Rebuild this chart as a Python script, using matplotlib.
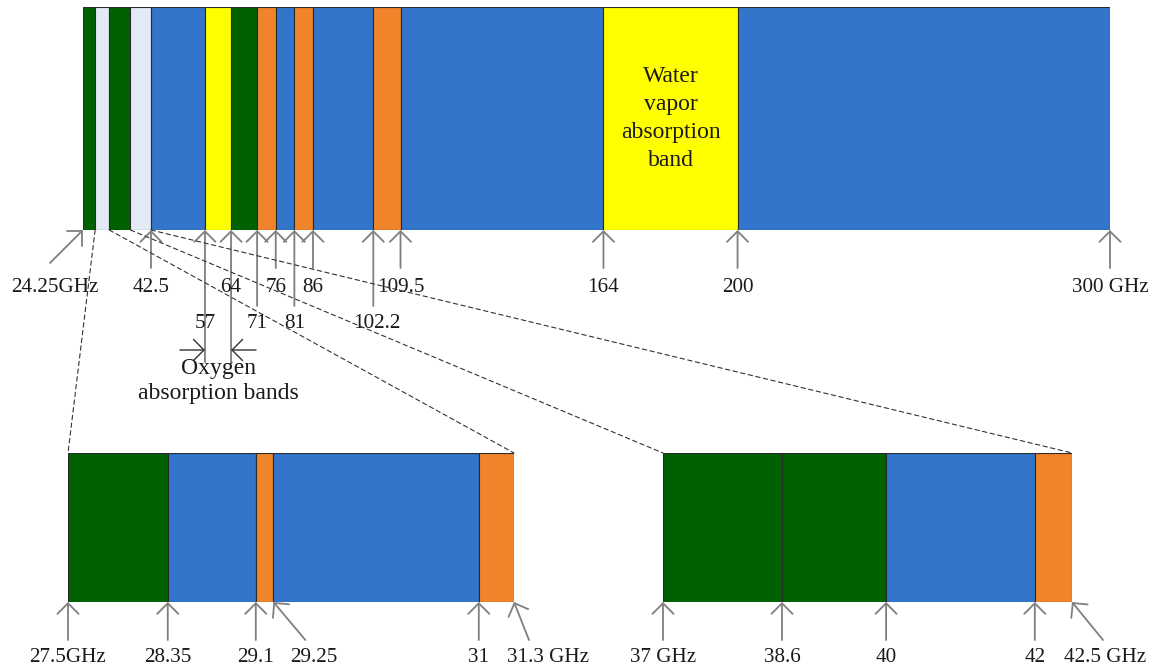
import matplotlib.pyplot as plt
from matplotlib.patches import ConnectionPatch

# --- données : bandes de fréquence (GHz) ---
top_starts = [24.25, 27.5, 31.3, 37, 42.5, 57, 64, 71, 76, 81, 86, 102.2, 109.5, 164, 200]
top_ends = [27.5, 31.3, 37, 42.5, 57, 64, 71, 76, 81, 86, 102.2, 109.5, 164, 200, 300]
top_kinds = ['green', 'light', 'green', 'light', 'blue', 'yellow', 'green', 'orange',
             'blue', 'orange', 'blue', 'orange', 'blue', 'yellow', 'blue']

top_ticks = [24.25, 42.5, 57, 64, 71, 76, 81, 86, 102.2, 109.5, 164, 200, 300]
top_tick_labels = ['24.25GHz', '42.5', '57', '64', '71', '76', '81', '86',
                   '102.2', '109.5', '164', '200', '300 GHz']

left_starts = [27.5, 28.35, 29.1, 29.25, 31]
left_ends = [28.35, 29.1, 29.25, 31, 31.3]
left_kinds = ['green', 'blue', 'orange', 'blue', 'orange']
left_ticks = [27.5, 28.35, 29.1, 29.25, 31, 31.3]
left_tick_labels = ['27.5GHz', '28.35', '29.1', '29.25', '31', '31.3 GHz']

right_starts = [37, 38.6, 40, 42]
right_ends = [38.6, 40, 42, 42.5]
right_kinds = ['green', 'green', 'blue', 'orange']
right_ticks = [37, 38.6, 40, 42, 42.5]
right_tick_labels = ['37 GHz', '38.6', '40', '42', '42.5 GHz']

# --- mise en page (pixels) ---
top_arrow_dx = [-33, 0, 0, 0, 0, 0, 0, 0, 0, 0, 0, 0, 0]
top_arrow_len = [33, 38, 132, 132, 76, 38, 76, 38, 76, 38, 38, 38, 38]
top_label_dx = [-28, 0, 0, 0, 0, 0, 0, 0, 3, 0, 0, 0, 0]
top_label_row = [0, 0, 1, 0, 1, 0, 1, 0, 1, 0, 0, 0, 0]
left_arrow_dx = [0, 0, 0, 32, 0, 15]
left_label_dx = [0, 0, 0, 40, 0, 34]
right_arrow_dx = [0, 0, 0, 0, 31]
right_label_dx = [0, 0, 0, 0, 33]

colors = {'green': '#006100', 'light': '#e2eaf6', 'blue': '#3375cb',
          'orange': '#f0842a', 'yellow': '#ffff00'}
gray = '#7f7f7f'

plt.rcParams['font.family'] = ['Liberation Serif', 'DejaVu Serif']
plt.rcParams['font.size'] = 15.2

W, H = 1151, 671
fig = plt.figure(figsize=(W / 100, H / 100), dpi=100)


def add_ax(x0, x1, y0, y1):
    ax = fig.add_axes([x0 / W, 1 - y1 / H, (x1 - x0) / W, (y1 - y0) / H])
    ax.set_ylim(0, 1)
    ax.axis('off')
    return ax


def draw_bands(ax, starts, ends, kinds):
    widths = [e - s for s, e in zip(starts, ends)]
    ax.bar(starts, [1] * len(starts), width=widths, bottom=0, align='edge',
           color=[colors[k] for k in kinds], edgecolor='#2b2b2b', linewidth=0.8)
    ax.set_xlim(starts[0], ends[-1])


def draw_tick(ax, x, label, dx, dy, lx, ly):
    trans = ('data', 'axes fraction')
    ax.annotate('', xy=(x, 0), xycoords=trans, xytext=(dx, -dy),
                textcoords='offset pixels', annotation_clip=False,
                arrowprops=dict(arrowstyle='->,head_length=0.5,head_width=0.5',
                                color=gray, lw=1.3, shrinkA=0, shrinkB=0))
    ax.annotate(label, xy=(x, 0), xycoords=trans, xytext=(lx, -ly),
                textcoords='offset pixels', ha='center', va='center',
                annotation_clip=False, color='#1a1a1a')


# barre principale
ax_top = add_ax(83, 1110, 7, 230)
draw_bands(ax_top, top_starts, top_ends, top_kinds)
bar_h = 223
row_y = [57, 93]
for x, lab, dx, dl, ldx, row in zip(top_ticks, top_tick_labels, top_arrow_dx,
                                    top_arrow_len, top_label_dx, top_label_row):
    draw_tick(ax_top, x, lab, dx, dl, ldx, row_y[row])

ax_top.text(182, 0.5, 'Water\nvapor\nabsorption\nband', ha='center', va='center',
            fontsize=17, linespacing=1.45, color='#1a1a1a')

# bandes d'absorption de l'oxygène
oy = -120 / bar_h
ax_top.annotate('', xy=(57, oy), xycoords=('data', 'axes fraction'),
                xytext=(-25, 0), textcoords='offset pixels', annotation_clip=False,
                arrowprops=dict(arrowstyle='->,head_length=0.5,head_width=0.5',
                                color='#333333', lw=1.0, shrinkA=0, shrinkB=0))
ax_top.annotate('', xy=(64, oy), xycoords=('data', 'axes fraction'),
                xytext=(25, 0), textcoords='offset pixels', annotation_clip=False,
                arrowprops=dict(arrowstyle='->,head_length=0.5,head_width=0.5',
                                color='#333333', lw=1.0, shrinkA=0, shrinkB=0))
ax_top.text(60.5, -151 / bar_h, 'Oxygen\nabsorption bands', ha='center', va='center',
            fontsize=17, linespacing=1.2, color='#1a1a1a',
            transform=ax_top.get_xaxis_transform())

# zooms
ax_l = add_ax(68, 514, 453, 602)
draw_bands(ax_l, left_starts, left_ends, left_kinds)
for x, lab, dx, ldx in zip(left_ticks, left_tick_labels, left_arrow_dx, left_label_dx):
    draw_tick(ax_l, x, lab, dx, 38, ldx, 55)

ax_r = add_ax(663, 1072, 453, 602)
draw_bands(ax_r, right_starts, right_ends, right_kinds)
for x, lab, dx, ldx in zip(right_ticks, right_tick_labels, right_arrow_dx, right_label_dx):
    draw_tick(ax_r, x, lab, dx, 38, ldx, 55)

# lignes pointillées de liaison
for xa, axb in [(27.5, ax_l), (31.3, ax_l), (37, ax_r), (42.5, ax_r)]:
    con = ConnectionPatch(xyA=(xa, 0), coordsA=ax_top.get_xaxis_transform(),
                          xyB=(xa, 1), coordsB=axb.get_xaxis_transform(),
                          linestyle=(0, (4, 3)), color='#333333', lw=0.8)
    fig.add_artist(con)

fig.savefig('out.png', dpi=100)
